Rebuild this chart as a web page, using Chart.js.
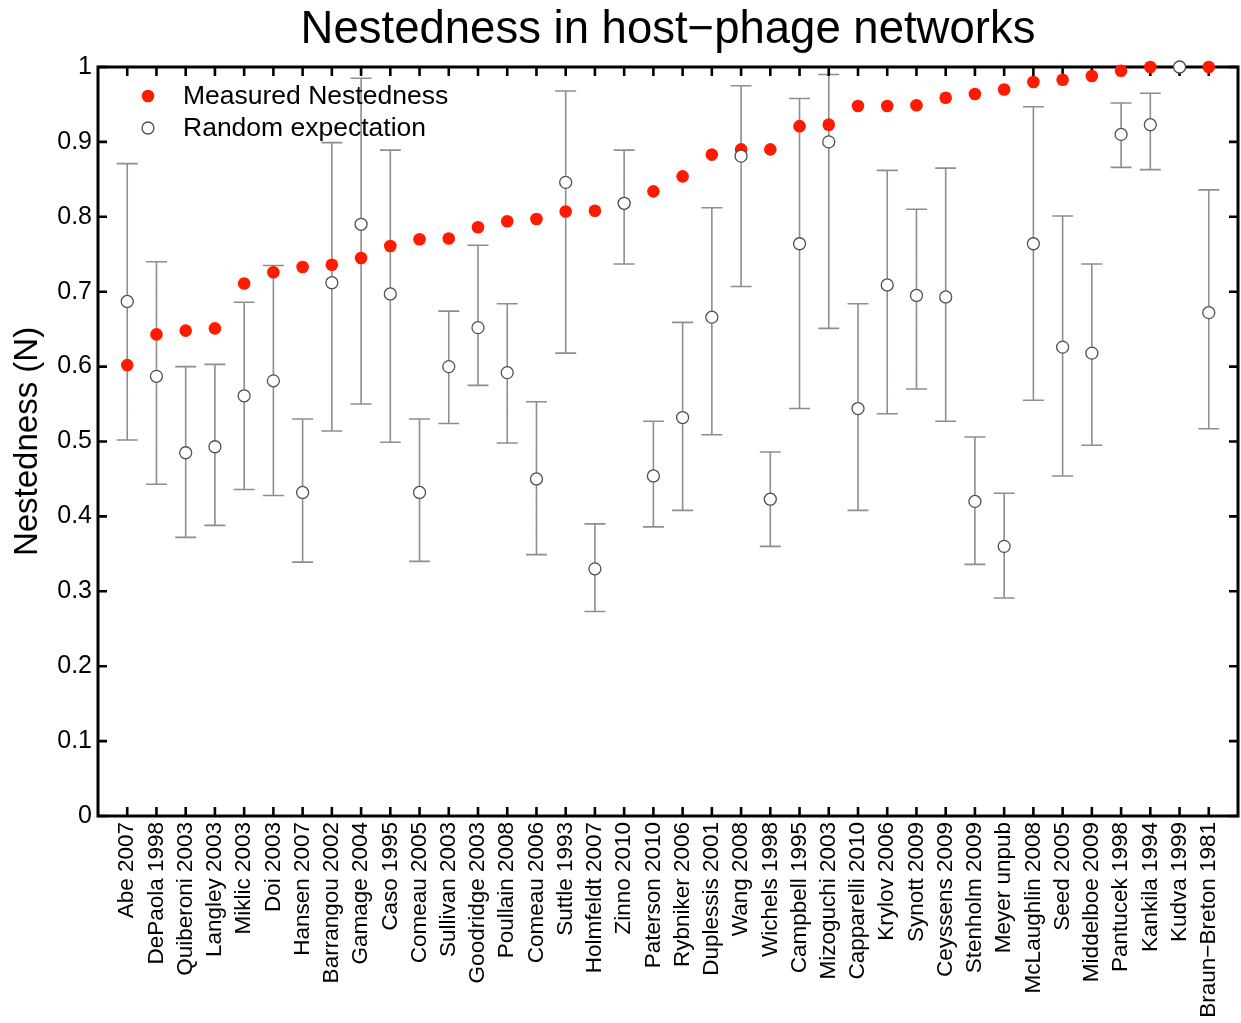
<!DOCTYPE html>
<html>
<head>
<meta charset="utf-8">
<title>Nestedness in host−phage networks</title>
<script src="https://cdn.jsdelivr.net/npm/chart.js@4.4.1/dist/chart.umd.min.js"></script>
<style>
  html, body { margin: 0; padding: 0; background: #ffffff; }
  canvas { display: block; }
</style>
</head>
<body>
<canvas id="nestedness" width="1241" height="1023"></canvas>
<script>
// Study labels, ordered by measured nestedness
const categories = [
  'Abe 2007', 'DePaola 1998', 'Quiberoni 2003', 'Langley 2003', 'Miklic 2003',
  'Doi 2003', 'Hansen 2007', 'Barrangou 2002', 'Gamage 2004', 'Caso 1995',
  'Comeau 2005', 'Sullivan 2003', 'Goodridge 2003', 'Poullain 2008', 'Comeau 2006',
  'Suttle 1993', 'Holmfeldt 2007', 'Zinno 2010', 'Paterson 2010', 'Rybniker 2006',
  'Duplessis 2001', 'Wang 2008', 'Wichels 1998', 'Campbell 1995', 'Mizoguchi 2003',
  'Capparelli 2010', 'Krylov 2006', 'Synott 2009', 'Ceyssens 2009', 'Stenholm 2009',
  'Meyer unpub', 'McLaughlin 2008', 'Seed 2005', 'Middelboe 2009', 'Pantucek 1998',
  'Kankila 1994', 'Kudva 1999', 'Braun\u2212Breton 1981'
];

// Measured nestedness N for each network
const measured = [
  0.602, 0.643, 0.648, 0.651, 0.711, 0.726, 0.733, 0.736, 0.745, 0.761,
  0.770, 0.771, 0.786, 0.794, 0.797, 0.807, 0.808, 0.818, 0.834, 0.854,
  0.883, 0.890, 0.890, 0.921, 0.923, 0.948, 0.948, 0.949, 0.959, 0.964,
  0.970, 0.980, 0.983, 0.988, 0.995, 1.000, 1.000, 1.000
];

// Random expectation (mean) and its interval
const randomMean = [
  0.687, 0.587, 0.485, 0.493, 0.561, 0.581, 0.432, 0.712, 0.790, 0.697,
  0.432, 0.600, 0.652, 0.592, 0.450, 0.846, 0.330, 0.818, 0.454, 0.532,
  0.666, 0.881, 0.423, 0.764, 0.900, 0.544, 0.709, 0.695, 0.693, 0.420,
  0.360, 0.764, 0.626, 0.618, 0.910, 0.923, 1.000, 0.672
];
const randomLow = [
  0.502, 0.443, 0.372, 0.388, 0.436, 0.428, 0.339, 0.514, 0.550, 0.499,
  0.340, 0.524, 0.575, 0.498, 0.349, 0.618, 0.273, 0.737, 0.386, 0.408,
  0.509, 0.707, 0.360, 0.544, 0.651, 0.408, 0.537, 0.570, 0.527, 0.336,
  0.291, 0.555, 0.454, 0.495, 0.866, 0.863, 1.000, 0.517
];
const randomHigh = [
  0.871, 0.740, 0.600, 0.603, 0.686, 0.735, 0.530, 0.899, 0.985, 0.889,
  0.530, 0.674, 0.762, 0.684, 0.553, 0.968, 0.390, 0.889, 0.527, 0.659,
  0.812, 0.975, 0.486, 0.958, 0.990, 0.684, 0.862, 0.810, 0.865, 0.506,
  0.431, 0.947, 0.801, 0.737, 0.952, 0.965, 1.000, 0.836
];

const titleText = 'Nestedness in host\u2212phage networks';
const yAxisTitle = 'Nestedness (N)';
const seriesNames = ['Measured Nestedness', 'Random expectation'];

const FONT = '"Liberation Sans", Arial, Helvetica, sans-serif';
const RED = '#ff1a00';
const CIRCLE_EDGE = '#505050';
const BAR_GRAY = '#8e8e8e';
const CLEAR = 'rgba(0,0,0,0)';

// Study i sits at x = i + 1 on an axis running from 0 to n + 1
const xPos = (i) => i + 1;
const toPoints = (arr) => arr.map((v, i) => ({ x: xPos(i), y: v }));

// Error bars of the random expectation, drawn under the markers
const errorBars = {
  id: 'errorBars',
  beforeDatasetsDraw(chart) {
    const { ctx, scales: { x, y } } = chart;
    const cap = 10.5;
    ctx.save();
    ctx.strokeStyle = BAR_GRAY;
    ctx.lineWidth = 1.6;
    ctx.beginPath();
    categories.forEach((c, i) => {
      if (randomHigh[i] === randomLow[i]) return;
      const px = x.getPixelForValue(xPos(i));
      const yLo = y.getPixelForValue(randomLow[i]);
      const yHi = y.getPixelForValue(randomHigh[i]);
      ctx.moveTo(px, yLo); ctx.lineTo(px, yHi);
      ctx.moveTo(px - cap, yLo); ctx.lineTo(px + cap, yLo);
      ctx.moveTo(px - cap, yHi); ctx.lineTo(px + cap, yHi);
    });
    ctx.stroke();
    ctx.restore();
  }
};

// Boxed axes with inward ticks on every side
const boxAxes = {
  id: 'boxAxes',
  beforeDatasetsDraw(chart) {
    const { ctx, chartArea: a, scales: { x, y } } = chart;
    const len = 9;
    ctx.save();
    ctx.strokeStyle = '#000';
    ctx.lineWidth = 2.6;
    ctx.beginPath();
    y.ticks.forEach((t, i) => {
      const py = y.getPixelForTick(i);
      ctx.moveTo(a.left, py); ctx.lineTo(a.left + len, py);
      ctx.moveTo(a.right, py); ctx.lineTo(a.right - len, py);
    });
    x.ticks.forEach((t, i) => {
      const px = x.getPixelForTick(i);
      ctx.moveTo(px, a.top); ctx.lineTo(px, a.top + len);
      ctx.moveTo(px, a.bottom); ctx.lineTo(px, a.bottom - len);
    });
    ctx.stroke();
    ctx.lineWidth = 3;
    ctx.lineJoin = 'miter';
    ctx.strokeRect(a.left, a.top, a.right - a.left, a.bottom - a.top);
    ctx.restore();
  }
};

// Title above the plot box and a legend in its upper-left corner
const titleAndLegend = {
  id: 'titleAndLegend',
  afterDatasetsDraw(chart) {
    const { ctx, chartArea: a } = chart;
    ctx.save();
    ctx.fillStyle = '#000';
    ctx.font = '45.5px ' + FONT;
    ctx.textAlign = 'center';
    ctx.textBaseline = 'alphabetic';
    ctx.fillText(titleText, (a.left + a.right) / 2, 43);

    const mx = a.left + 50;
    const tx = a.left + 85;
    const y1 = a.top + 29;
    const y2 = a.top + 61;
    ctx.beginPath();
    ctx.arc(mx, y1, 6.3, 0, Math.PI * 2);
    ctx.fillStyle = RED;
    ctx.fill();
    ctx.beginPath();
    ctx.arc(mx, y2, 6, 0, Math.PI * 2);
    ctx.fillStyle = '#fff';
    ctx.fill();
    ctx.lineWidth = 1.3;
    ctx.strokeStyle = CIRCLE_EDGE;
    ctx.stroke();

    ctx.fillStyle = '#000';
    ctx.font = '26.5px ' + FONT;
    ctx.textAlign = 'left';
    ctx.textBaseline = 'middle';
    ctx.fillText(seriesNames[0], tx, y1 + 1);
    ctx.fillText(seriesNames[1], tx, y2 + 1);
    ctx.restore();
  }
};

new Chart(document.getElementById('nestedness'), {
  type: 'scatter',
  data: {
    datasets: [
      {
        label: seriesNames[1],
        data: toPoints(randomMean),
        pointRadius: 6,
        pointBackgroundColor: '#ffffff',
        pointBorderColor: CIRCLE_EDGE,
        pointBorderWidth: 1.3,
        clip: false,
        order: 0
      },
      {
        label: seriesNames[0],
        data: toPoints(measured),
        pointRadius: 6.3,
        pointBackgroundColor: RED,
        pointBorderWidth: 0,
        clip: false,
        order: 1
      }
    ]
  },
  options: {
    responsive: false,
    animation: false,
    events: [],
    layout: { autoPadding: false, padding: { top: 67, right: 3, left: 0, bottom: 0 } },
    plugins: {
      legend: { display: false },
      title: { display: false },
      tooltip: { enabled: false }
    },
    scales: {
      x: {
        type: 'linear',
        min: 0,
        max: categories.length + 1,
        // invisible tick marks keep the labels clear of the axis line
        grid: {
          display: true,
          drawOnChartArea: false,
          drawTicks: true,
          tickLength: 6,
          color: CLEAR,
          tickColor: CLEAR
        },
        border: { display: false },
        afterBuildTicks(scale) {
          scale.ticks = categories.map((c, i) => ({ value: xPos(i) }));
        },
        ticks: {
          autoSkip: false,
          minRotation: 90,
          maxRotation: 90,
          padding: 0,
          color: '#000',
          font: { family: FONT, size: 22.5 },
          callback: (v) => categories[Math.round(v) - 1]
        },
        afterFit(scale) { scale.height = 207; }
      },
      y: {
        min: 0,
        max: 1,
        grid: { display: false, drawTicks: false },
        border: { display: false },
        ticks: {
          stepSize: 0.1,
          padding: 6,
          color: '#000',
          font: { family: FONT, size: 25 },
          callback: (v) => String(Number(v.toFixed(1)))
        },
        title: {
          display: true,
          text: yAxisTitle,
          color: '#000',
          font: { family: FONT, size: 33 },
          padding: { top: 8, bottom: 0 }
        },
        afterFit(scale) { scale.width = 98; }
      }
    }
  },
  plugins: [errorBars, boxAxes, titleAndLegend]
});
</script>
</body>
</html>
